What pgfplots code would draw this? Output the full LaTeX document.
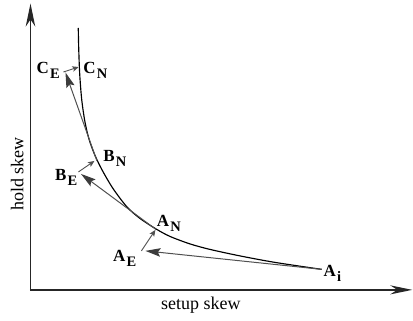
\documentclass[border=0pt]{standalone}
\usepackage{pgfplots}
\pgfplotsset{compat=1.18}
\usetikzlibrary{arrows.meta}
\usepackage{fontspec}
\setmainfont{Liberation Serif}

\definecolor{arrowgray}{HTML}{505050}
\definecolor{headgray}{HTML}{3C3C3C}
\definecolor{axisgray}{HTML}{262626}

% point label with a lowered subscript
\newcommand{\lab}[2]{{\fontsize{17bp}{18bp}\selectfont\bfseries #1\kern1.2bp\raisebox{-5bp}{\fontsize{14.5bp}{15bp}\selectfont #2}}}

\begin{document}
\begin{tikzpicture}
\begin{axis}[
  x=1bp, y=1bp, y dir=reverse,
  xmin=0, xmax=413, ymin=0, ymax=321,
  hide axis, clip=false,
  every axis plot/.append style={line join=round},
  big/.style={arrowgray, line width=1bp,
    -{Stealth[length=15bp, width=8.5bp, inset=2.5bp, fill=headgray, color=headgray]}},
  small/.style={arrowgray, line width=0.9bp,
    -{Stealth[length=6.5bp, width=5.5bp, inset=1.5bp]}},
]
% frame of the picture
\addplot[draw=none] coordinates {(0,0) (413,321)};

% axes
\addplot[axisgray, line width=1.4bp,
  -{Stealth[length=23bp, width=9.5bp, inset=7bp]}]
  coordinates {(30.5,290) (30.5,3.5)};
\addplot[axisgray, line width=1.4bp,
  -{Stealth[length=22bp, width=9bp, inset=7bp]}]
  coordinates {(30,290) (412.5,290)};

% trade-off curve between setup and hold skew
\addplot[black, line width=1.15bp, smooth, tension=0.5] coordinates {
  (78.3,28) (78.8,50) (79.8,75) (81.8,100) (85,122) (89,139)
  (94,153) (99.5,165) (106,177) (114,190) (127,207) (140,218.5)
  (156,229) (170,236.5) (190,244) (210,249.5) (240,256) (275,262.5)
  (322,269.5)};

% iteration steps
\addplot[big]   coordinates {(322,269.5) (145.5,251)};
\addplot[small] coordinates {(141.5,251) (155.5,230)};
\addplot[big]   coordinates {(156,229.5) (81,174)};
\addplot[small] coordinates {(78.5,172) (94.5,161)};
\addplot[big]   coordinates {(97,161) (65.5,72.5)};
\addplot[small] coordinates {(63.5,72) (78.8,67)};

% point labels
\node[anchor=base west, inner sep=0] at (axis cs:36.5,73.3)  {\lab{C}{E}};
\node[anchor=base west, inner sep=0] at (axis cs:83.3,73.3)  {\lab{C}{N}};
\node[anchor=base west, inner sep=0] at (axis cs:103.3,161.7){\lab{B}{N}};
\node[anchor=base west, inner sep=0] at (axis cs:55,180.5)   {\lab{B}{E}};
\node[anchor=base west, inner sep=0] at (axis cs:156.7,226.7){\lab{A}{N}};
\node[anchor=base west, inner sep=0] at (axis cs:113,261.7)  {\lab{A}{E}};
\node[anchor=base west, inner sep=0] at (axis cs:323.5,276.7){\lab{A}{i}};

% axis titles
\node[anchor=base, inner sep=0, font=\fontsize{18bp}{20bp}\selectfont]
  at (axis cs:201,309.5) {setup skew};
\node[anchor=base, inner sep=0, rotate=90, font=\fontsize{18bp}{20bp}\selectfont]
  at (axis cs:23.3,174) {hold skew};
\end{axis}
\end{tikzpicture}
\end{document}
